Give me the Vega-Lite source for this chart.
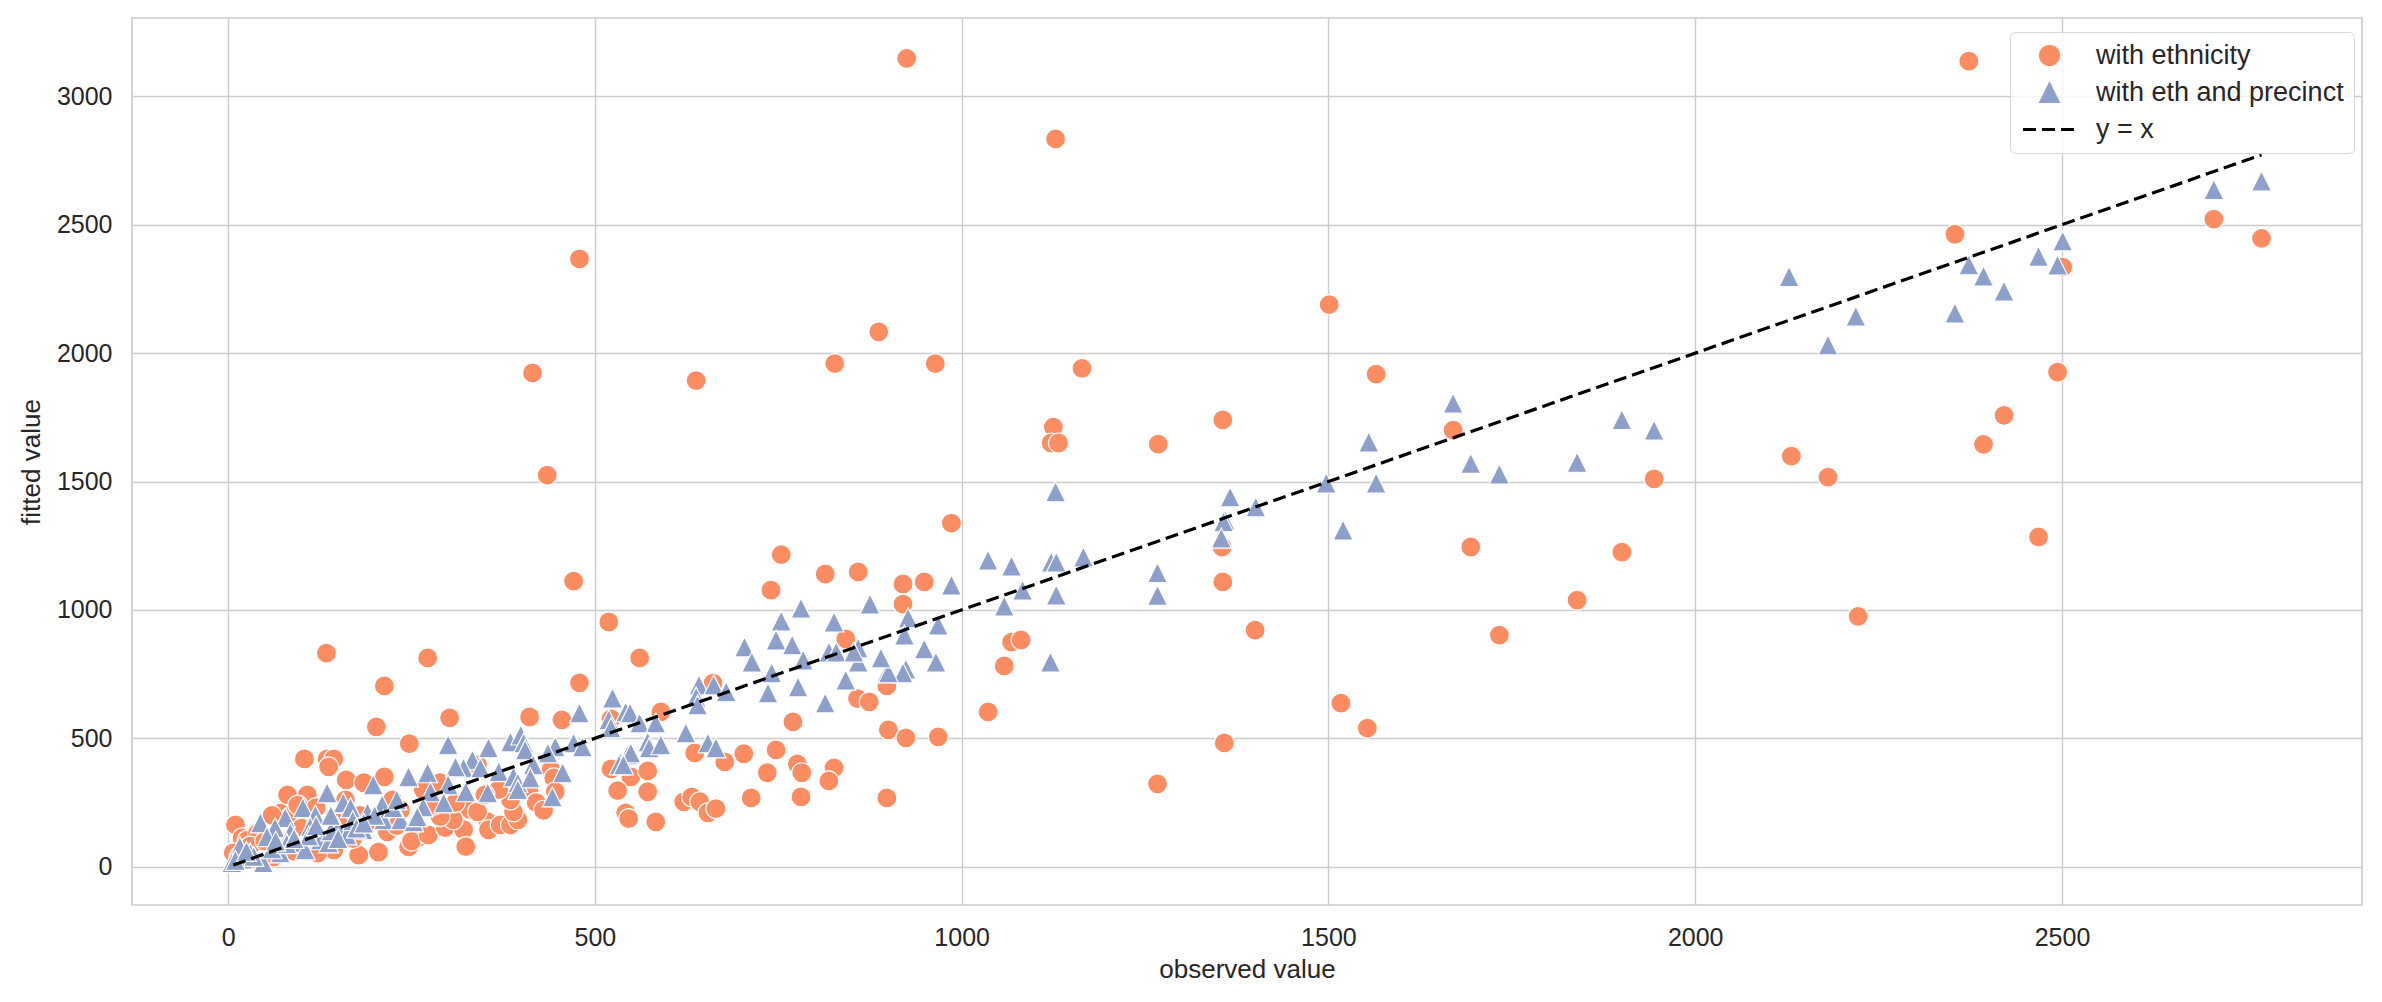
{
  "$schema": "https://vega.github.io/schema/vega-lite/v6.json",
  "autosize": {"type": "none"},
  "width": 2230,
  "height": 887,
  "padding": {"left": 132, "top": 18, "right": 20, "bottom": 97},
  "background": "white",
  "config": {
    "font": "Liberation Sans",
    "view": {"stroke": "#cccccc", "strokeWidth": 1.7},
    "axis": {
      "domain": false, "ticks": false, "grid": true, "gridColor": "#cccccc", "gridWidth": 1.4,
      "labelFont": "Liberation Sans", "labelFontSize": 25, "labelColor": "#262626",
      "titleFont": "Liberation Sans", "titleFontSize": 26, "titleColor": "#262626", "titleFontWeight": "normal"
    },
    "legend": {
      "title": null, "orient": "none", "legendX": 1878, "legendY": 14,
      "fillColor": "rgba(255,255,255,0.8)", "strokeColor": "#d6d6d6", "cornerRadius": 5, "padding": 10,
      "labelFont": "Liberation Sans", "labelFontSize": 27, "labelColor": "#262626", "labelLimit": 500, "rowPadding": 9,
      "symbolSize": 380, "symbolStrokeWidth": 1.2, "symbolOffset": 16, "labelOffset": 33
    }
  },
  "datasets": {
    "pts": [
      {"o":925,"f":3148,"s":"with ethnicity"},{"o":1128,"f":2834,"s":"with ethnicity"},{"o":479,"f":2367,"s":"with ethnicity"},{"o":887,"f":2083,"s":"with ethnicity"},
      {"o":415,"f":1923,"s":"with ethnicity"},{"o":827,"f":1959,"s":"with ethnicity"},{"o":964,"f":1959,"s":"with ethnicity"},{"o":638,"f":1893,"s":"with ethnicity"},
      {"o":1164,"f":1941,"s":"with ethnicity"},{"o":435,"f":1525,"s":"with ethnicity"},{"o":1501,"f":2189,"s":"with ethnicity"},{"o":1565,"f":1918,"s":"with ethnicity"},
      {"o":1268,"f":1646,"s":"with ethnicity"},{"o":1356,"f":1740,"s":"with ethnicity"},{"o":1125,"f":1712,"s":"with ethnicity"},{"o":1122,"f":1650,"s":"with ethnicity"},
      {"o":1132,"f":1650,"s":"with ethnicity"},{"o":986,"f":1338,"s":"with ethnicity"},{"o":471,"f":1112,"s":"with ethnicity"},{"o":754,"f":1215,"s":"with ethnicity"},
      {"o":740,"f":1077,"s":"with ethnicity"},{"o":814,"f":1140,"s":"with ethnicity"},{"o":859,"f":1148,"s":"with ethnicity"},{"o":920,"f":1101,"s":"with ethnicity"},
      {"o":949,"f":1109,"s":"with ethnicity"},{"o":920,"f":1023,"s":"with ethnicity"},{"o":519,"f":953,"s":"with ethnicity"},{"o":479,"f":716,"s":"with ethnicity"},
      {"o":134,"f":832,"s":"with ethnicity"},{"o":272,"f":813,"s":"with ethnicity"},{"o":213,"f":704,"s":"with ethnicity"},{"o":202,"f":545,"s":"with ethnicity"},
      {"o":302,"f":580,"s":"with ethnicity"},{"o":411,"f":583,"s":"with ethnicity"},{"o":455,"f":572,"s":"with ethnicity"},{"o":561,"f":813,"s":"with ethnicity"},
      {"o":590,"f":603,"s":"with ethnicity"},{"o":661,"f":715,"s":"with ethnicity"},{"o":842,"f":887,"s":"with ethnicity"},{"o":770,"f":564,"s":"with ethnicity"},
      {"o":858,"f":655,"s":"with ethnicity"},{"o":874,"f":642,"s":"with ethnicity"},{"o":898,"f":704,"s":"with ethnicity"},{"o":900,"f":533,"s":"with ethnicity"},
      {"o":924,"f":502,"s":"with ethnicity"},{"o":968,"f":506,"s":"with ethnicity"},{"o":898,"f":268,"s":"with ethnicity"},{"o":1036,"f":603,"s":"with ethnicity"},
      {"o":1058,"f":782,"s":"with ethnicity"},{"o":1068,"f":875,"s":"with ethnicity"},{"o":1081,"f":883,"s":"with ethnicity"},
      {"o":636,"f":443,"s":"with ethnicity"},{"o":677,"f":408,"s":"with ethnicity"},{"o":703,"f":440,"s":"with ethnicity"},{"o":747,"f":455,"s":"with ethnicity"},
      {"o":735,"f":366,"s":"with ethnicity"},{"o":776,"f":400,"s":"with ethnicity"},{"o":782,"f":366,"s":"with ethnicity"},{"o":826,"f":385,"s":"with ethnicity"},
      {"o":819,"f":334,"s":"with ethnicity"},{"o":781,"f":272,"s":"with ethnicity"},{"o":713,"f":268,"s":"with ethnicity"},
      {"o":522,"f":381,"s":"with ethnicity"},{"o":549,"f":350,"s":"with ethnicity"},{"o":572,"f":373,"s":"with ethnicity"},{"o":531,"f":296,"s":"with ethnicity"},
      {"o":572,"f":292,"s":"with ethnicity"},{"o":542,"f":210,"s":"with ethnicity"},{"o":546,"f":187,"s":"with ethnicity"},{"o":583,"f":175,"s":"with ethnicity"},
      {"o":621,"f":253,"s":"with ethnicity"},{"o":632,"f":272,"s":"with ethnicity"},{"o":643,"f":253,"s":"with ethnicity"},{"o":654,"f":210,"s":"with ethnicity"},
      {"o":665,"f":226,"s":"with ethnicity"},{"o":522,"f":576,"s":"with ethnicity"},
      {"o":1267,"f":323,"s":"with ethnicity"},{"o":1358,"f":482,"s":"with ethnicity"},{"o":1400,"f":921,"s":"with ethnicity"},{"o":1517,"f":637,"s":"with ethnicity"},
      {"o":1553,"f":540,"s":"with ethnicity"},{"o":1356,"f":1109,"s":"with ethnicity"},{"o":1355,"f":1245,"s":"with ethnicity"},{"o":1670,"f":1700,"s":"with ethnicity"},
      {"o":1694,"f":1245,"s":"with ethnicity"},{"o":1733,"f":902,"s":"with ethnicity"},{"o":1839,"f":1038,"s":"with ethnicity"},{"o":1900,"f":1225,"s":"with ethnicity"},
      {"o":1944,"f":1510,"s":"with ethnicity"},{"o":2131,"f":1599,"s":"with ethnicity"},{"o":2181,"f":1517,"s":"with ethnicity"},{"o":2222,"f":975,"s":"with ethnicity"},
      {"o":2373,"f":3137,"s":"with ethnicity"},{"o":2707,"f":2522,"s":"with ethnicity"},{"o":2772,"f":2447,"s":"with ethnicity"},{"o":2354,"f":2463,"s":"with ethnicity"},
      {"o":2501,"f":2335,"s":"with ethnicity"},{"o":2494,"f":1926,"s":"with ethnicity"},{"o":2421,"f":1758,"s":"with ethnicity"},{"o":2393,"f":1645,"s":"with ethnicity"},
      {"o":2468,"f":1284,"s":"with ethnicity"},
      {"o":247,"f":479,"s":"with ethnicity"},{"o":104,"f":420,"s":"with ethnicity"},{"o":135,"f":420,"s":"with ethnicity"},{"o":144,"f":420,"s":"with ethnicity"},
      {"o":137,"f":389,"s":"with ethnicity"},{"o":161,"f":338,"s":"with ethnicity"},{"o":185,"f":327,"s":"with ethnicity"},{"o":213,"f":350,"s":"with ethnicity"},
      {"o":81,"f":280,"s":"with ethnicity"},{"o":108,"f":280,"s":"with ethnicity"},{"o":71,"f":209,"s":"with ethnicity"},{"o":85,"f":194,"s":"with ethnicity"},
      {"o":10,"f":163,"s":"with ethnicity"},{"o":19,"f":112,"s":"with ethnicity"},{"o":26,"f":104,"s":"with ethnicity"},{"o":7,"f":54,"s":"with ethnicity"},
      {"o":178,"f":45,"s":"with ethnicity"},{"o":205,"f":57,"s":"with ethnicity"},{"o":246,"f":77,"s":"with ethnicity"},{"o":258,"f":112,"s":"with ethnicity"},
      {"o":217,"f":136,"s":"with ethnicity"},{"o":235,"f":221,"s":"with ethnicity"},{"o":224,"f":260,"s":"with ethnicity"},{"o":144,"f":65,"s":"with ethnicity"},
      {"o":122,"f":53,"s":"with ethnicity"},{"o":62,"f":38,"s":"with ethnicity"},
      {"o":250,"f":100,"s":"with ethnicity"},{"o":273,"f":124,"s":"with ethnicity"},{"o":296,"f":152,"s":"with ethnicity"},{"o":321,"f":144,"s":"with ethnicity"},
      {"o":324,"f":78,"s":"with ethnicity"},{"o":330,"f":222,"s":"with ethnicity"},{"o":354,"f":175,"s":"with ethnicity"},{"o":355,"f":144,"s":"with ethnicity"},
      {"o":371,"f":163,"s":"with ethnicity"},{"o":385,"f":163,"s":"with ethnicity"},{"o":395,"f":183,"s":"with ethnicity"},{"o":389,"f":214,"s":"with ethnicity"},
      {"o":385,"f":260,"s":"with ethnicity"},{"o":340,"f":214,"s":"with ethnicity"},{"o":307,"f":183,"s":"with ethnicity"},{"o":289,"f":195,"s":"with ethnicity"},
      {"o":369,"f":300,"s":"with ethnicity"},{"o":440,"f":377,"s":"with ethnicity"},{"o":444,"f":346,"s":"with ethnicity"},{"o":446,"f":292,"s":"with ethnicity"},
      {"o":340,"f":397,"s":"with ethnicity"},{"o":289,"f":327,"s":"with ethnicity"},{"o":266,"f":300,"s":"with ethnicity"},
      {"o":95,"f":240,"s":"with ethnicity"},{"o":120,"f":230,"s":"with ethnicity"},{"o":60,"f":200,"s":"with ethnicity"},{"o":160,"f":260,"s":"with ethnicity"},
      {"o":180,"f":200,"s":"with ethnicity"},{"o":150,"f":170,"s":"with ethnicity"},{"o":40,"f":130,"s":"with ethnicity"},{"o":30,"f":80,"s":"with ethnicity"},
      {"o":100,"f":150,"s":"with ethnicity"},{"o":200,"f":180,"s":"with ethnicity"},{"o":50,"f":100,"s":"with ethnicity"},{"o":15,"f":40,"s":"with ethnicity"},
      {"o":90,"f":60,"s":"with ethnicity"},{"o":170,"f":110,"s":"with ethnicity"},{"o":230,"f":160,"s":"with ethnicity"},{"o":280,"f":240,"s":"with ethnicity"},
      {"o":310,"f":250,"s":"with ethnicity"},{"o":350,"f":280,"s":"with ethnicity"},{"o":410,"f":300,"s":"with ethnicity"},{"o":420,"f":250,"s":"with ethnicity"},
      {"o":430,"f":220,"s":"with ethnicity"},

      {"o":198,"f":319,"s":"with eth and precinct"},{"o":246,"f":350,"s":"with eth and precinct"},{"o":135,"f":288,"s":"with eth and precinct"},{"o":157,"f":249,"s":"with eth and precinct"},
      {"o":167,"f":230,"s":"with eth and precinct"},{"o":102,"f":230,"s":"with eth and precinct"},{"o":119,"f":202,"s":"with eth and precinct"},{"o":78,"f":191,"s":"with eth and precinct"},
      {"o":44,"f":171,"s":"with eth and precinct"},{"o":64,"f":152,"s":"with eth and precinct"},{"o":184,"f":144,"s":"with eth and precinct"},{"o":210,"f":241,"s":"with eth and precinct"},
      {"o":212,"f":183,"s":"with eth and precinct"},{"o":235,"f":183,"s":"with eth and precinct"},{"o":253,"f":175,"s":"with eth and precinct"},{"o":126,"f":105,"s":"with eth and precinct"},
      {"o":94,"f":93,"s":"with eth and precinct"},{"o":16,"f":78,"s":"with eth and precinct"},{"o":48,"f":16,"s":"with eth and precinct"},{"o":5,"f":16,"s":"with eth and precinct"},
      {"o":149,"f":156,"s":"with eth and precinct"},{"o":85,"f":132,"s":"with eth and precinct"},{"o":53,"f":117,"s":"with eth and precinct"},{"o":30,"f":54,"s":"with eth and precinct"},
      {"o":71,"f":54,"s":"with eth and precinct"},{"o":105,"f":66,"s":"with eth and precinct"},{"o":137,"f":93,"s":"with eth and precinct"},{"o":162,"f":124,"s":"with eth and precinct"},
      {"o":190,"f":210,"s":"with eth and precinct"},{"o":112,"f":155,"s":"with eth and precinct"},
      {"o":20,"f":30,"s":"with eth and precinct"},{"o":35,"f":40,"s":"with eth and precinct"},{"o":60,"f":70,"s":"with eth and precinct"},{"o":80,"f":90,"s":"with eth and precinct"},
      {"o":110,"f":120,"s":"with eth and precinct"},{"o":140,"f":140,"s":"with eth and precinct"},{"o":170,"f":180,"s":"with eth and precinct"},{"o":200,"f":200,"s":"with eth and precinct"},
      {"o":225,"f":230,"s":"with eth and precinct"},{"o":120,"f":160,"s":"with eth and precinct"},{"o":90,"f":110,"s":"with eth and precinct"},{"o":140,"f":200,"s":"with eth and precinct"},
      {"o":175,"f":150,"s":"with eth and precinct"},{"o":10,"f":25,"s":"with eth and precinct"},{"o":25,"f":60,"s":"with eth and precinct"},{"o":65,"f":100,"s":"with eth and precinct"},
      {"o":150,"f":110,"s":"with eth and precinct"},{"o":185,"f":170,"s":"with eth and precinct"},{"o":230,"f":260,"s":"with eth and precinct"},
      {"o":479,"f":599,"s":"with eth and precinct"},{"o":519,"f":572,"s":"with eth and precinct"},{"o":522,"f":541,"s":"with eth and precinct"},{"o":542,"f":603,"s":"with eth and precinct"},
      {"o":300,"f":475,"s":"with eth and precinct"},{"o":355,"f":463,"s":"with eth and precinct"},{"o":385,"f":486,"s":"with eth and precinct"},{"o":399,"f":513,"s":"with eth and precinct"},
      {"o":403,"f":482,"s":"with eth and precinct"},{"o":405,"f":455,"s":"with eth and precinct"},{"o":446,"f":467,"s":"with eth and precinct"},{"o":471,"f":482,"s":"with eth and precinct"},
      {"o":483,"f":467,"s":"with eth and precinct"},{"o":436,"f":443,"s":"with eth and precinct"},{"o":416,"f":397,"s":"with eth and precinct"},{"o":333,"f":416,"s":"with eth and precinct"},
      {"o":321,"f":385,"s":"with eth and precinct"},{"o":310,"f":389,"s":"with eth and precinct"},{"o":344,"f":385,"s":"with eth and precinct"},{"o":369,"f":370,"s":"with eth and precinct"},
      {"o":272,"f":366,"s":"with eth and precinct"},{"o":300,"f":319,"s":"with eth and precinct"},{"o":324,"f":292,"s":"with eth and precinct"},{"o":354,"f":288,"s":"with eth and precinct"},
      {"o":389,"f":350,"s":"with eth and precinct"},{"o":395,"f":327,"s":"with eth and precinct"},{"o":412,"f":346,"s":"with eth and precinct"},{"o":456,"f":366,"s":"with eth and precinct"},
      {"o":442,"f":272,"s":"with eth and precinct"},{"o":395,"f":300,"s":"with eth and precinct"},{"o":276,"f":292,"s":"with eth and precinct"},{"o":294,"f":249,"s":"with eth and precinct"},
      {"o":266,"f":233,"s":"with eth and precinct"},{"o":258,"f":195,"s":"with eth and precinct"},{"o":535,"f":405,"s":"with eth and precinct"},{"o":545,"f":436,"s":"with eth and precinct"},
      {"o":524,"f":657,"s":"with eth and precinct"},{"o":548,"f":599,"s":"with eth and precinct"},{"o":561,"f":560,"s":"with eth and precinct"},{"o":583,"f":560,"s":"with eth and precinct"},
      {"o":572,"f":486,"s":"with eth and precinct"},{"o":574,"f":463,"s":"with eth and precinct"},{"o":590,"f":475,"s":"with eth and precinct"},{"o":549,"f":443,"s":"with eth and precinct"},
      {"o":533,"f":397,"s":"with eth and precinct"},{"o":539,"f":397,"s":"with eth and precinct"},{"o":624,"f":521,"s":"with eth and precinct"},{"o":642,"f":708,"s":"with eth and precinct"},
      {"o":662,"f":708,"s":"with eth and precinct"},{"o":679,"f":681,"s":"with eth and precinct"},{"o":638,"f":661,"s":"with eth and precinct"},{"o":640,"f":630,"s":"with eth and precinct"},
      {"o":654,"f":482,"s":"with eth and precinct"},{"o":665,"f":463,"s":"with eth and precinct"},{"o":704,"f":856,"s":"with eth and precinct"},{"o":714,"f":797,"s":"with eth and precinct"},
      {"o":754,"f":957,"s":"with eth and precinct"},{"o":747,"f":883,"s":"with eth and precinct"},{"o":769,"f":864,"s":"with eth and precinct"},{"o":781,"f":1007,"s":"with eth and precinct"},
      {"o":784,"f":805,"s":"with eth and precinct"},{"o":741,"f":755,"s":"with eth and precinct"},{"o":736,"f":677,"s":"with eth and precinct"},{"o":777,"f":700,"s":"with eth and precinct"},
      {"o":826,"f":953,"s":"with eth and precinct"},{"o":819,"f":836,"s":"with eth and precinct"},{"o":829,"f":836,"s":"with eth and precinct"},{"o":842,"f":727,"s":"with eth and precinct"},
      {"o":814,"f":638,"s":"with eth and precinct"},{"o":859,"f":852,"s":"with eth and precinct"},{"o":859,"f":797,"s":"with eth and precinct"},
      {"o":875,"f":1023,"s":"with eth and precinct"},{"o":986,"f":1097,"s":"with eth and precinct"},{"o":927,"f":969,"s":"with eth and precinct"},{"o":922,"f":902,"s":"with eth and precinct"},
      {"o":968,"f":941,"s":"with eth and precinct"},{"o":949,"f":848,"s":"with eth and precinct"},{"o":965,"f":797,"s":"with eth and precinct"},{"o":924,"f":770,"s":"with eth and precinct"},
      {"o":920,"f":755,"s":"with eth and precinct"},{"o":898,"f":758,"s":"with eth and precinct"},{"o":900,"f":755,"s":"with eth and precinct"},{"o":890,"f":813,"s":"with eth and precinct"},
      {"o":853,"f":836,"s":"with eth and precinct"},{"o":1036,"f":1194,"s":"with eth and precinct"},{"o":1068,"f":1171,"s":"with eth and precinct"},{"o":1083,"f":1077,"s":"with eth and precinct"},
      {"o":1058,"f":1015,"s":"with eth and precinct"},{"o":1122,"f":1186,"s":"with eth and precinct"},{"o":1129,"f":1186,"s":"with eth and precinct"},{"o":1166,"f":1206,"s":"with eth and precinct"},
      {"o":1129,"f":1058,"s":"with eth and precinct"},{"o":1121,"f":797,"s":"with eth and precinct"},{"o":1128,"f":1460,"s":"with eth and precinct"},
      {"o":1267,"f":1145,"s":"with eth and precinct"},{"o":1267,"f":1057,"s":"with eth and precinct"},{"o":1366,"f":1440,"s":"with eth and precinct"},{"o":1401,"f":1401,"s":"with eth and precinct"},
      {"o":1359,"f":1350,"s":"with eth and precinct"},{"o":1357,"f":1343,"s":"with eth and precinct"},{"o":1354,"f":1280,"s":"with eth and precinct"},{"o":1497,"f":1494,"s":"with eth and precinct"},
      {"o":1555,"f":1654,"s":"with eth and precinct"},{"o":1565,"f":1494,"s":"with eth and precinct"},{"o":1520,"f":1311,"s":"with eth and precinct"},{"o":1670,"f":1805,"s":"with eth and precinct"},
      {"o":1694,"f":1571,"s":"with eth and precinct"},{"o":1733,"f":1529,"s":"with eth and precinct"},{"o":1839,"f":1575,"s":"with eth and precinct"},{"o":1900,"f":1741,"s":"with eth and precinct"},
      {"o":1944,"f":1700,"s":"with eth and precinct"},{"o":2128,"f":2298,"s":"with eth and precinct"},{"o":2181,"f":2032,"s":"with eth and precinct"},{"o":2219,"f":2144,"s":"with eth and precinct"},
      {"o":2354,"f":2156,"s":"with eth and precinct"},{"o":2373,"f":2344,"s":"with eth and precinct"},{"o":2393,"f":2300,"s":"with eth and precinct"},{"o":2421,"f":2242,"s":"with eth and precinct"},
      {"o":2468,"f":2377,"s":"with eth and precinct"},{"o":2494,"f":2343,"s":"with eth and precinct"},{"o":2501,"f":2437,"s":"with eth and precinct"},{"o":2707,"f":2637,"s":"with eth and precinct"},
      {"o":2772,"f":2670,"s":"with eth and precinct"}
    ],
    "diag": [
      {"o":7,"f":7,"s":"y = x"},
      {"o":2772,"f":2772,"s":"y = x"}
    ]
  },
  "layer": [
    {
      "data": {"name": "pts"},
      "mark": {"type": "point", "filled": true, "opacity": 1, "size": 400, "stroke": "white", "strokeWidth": 1.2},
      "encoding": {
        "x": {"field": "o", "type": "quantitative", "title": "observed value",
              "scale": {"domain": [-131, 2909], "nice": false, "zero": false},
              "axis": {"values": [0, 500, 1000, 1500, 2000, 2500], "format": "d", "labelPadding": 20, "titlePadding": 6}},
        "y": {"field": "f", "type": "quantitative", "title": "fitted value",
              "scale": {"domain": [-149, 3305], "nice": false, "zero": false},
              "axis": {"values": [0, 500, 1000, 1500, 2000, 2500, 3000], "format": "d", "labelPadding": 20, "titlePadding": 12}},
        "color": {"field": "s", "type": "nominal",
                  "scale": {"domain": ["with ethnicity", "with eth and precinct", "y = x"], "range": ["#fc8d62", "#8da0cb", "#000000"]},
                  "legend": {"encode": {"symbols": {"update": {
                               "stroke": {"signal": "datum.value === 'y = x' ? 'black' : 'white'"},
                               "strokeWidth": {"signal": "datum.value === 'y = x' ? 3.2 : 1.2"},
                               "strokeDash": {"signal": "datum.value === 'y = x' ? [13, 6] : [1, 0]"},
                               "size": {"signal": "datum.value === 'y = x' ? 2809 : 400"},
                               "opacity": {"value": 1}
                             }}}}},
        "shape": {"field": "s", "type": "nominal",
                  "scale": {"domain": ["with ethnicity", "with eth and precinct", "y = x"], "range": ["circle", "M0,-1L-1,1L1,1Z", "stroke"]},
                  "legend": {"encode": {"symbols": {"update": {
                               "stroke": {"signal": "datum.value === 'y = x' ? 'black' : 'white'"},
                               "strokeWidth": {"signal": "datum.value === 'y = x' ? 3.2 : 1.2"},
                               "strokeDash": {"signal": "datum.value === 'y = x' ? [13, 6] : [1, 0]"},
                               "size": {"signal": "datum.value === 'y = x' ? 2809 : 400"},
                               "opacity": {"value": 1}
                             }}}}}
      }
    },
    {
      "data": {"name": "diag"},
      "mark": {"type": "line", "strokeDash": [13, 6], "strokeWidth": 3.2},
      "encoding": {
        "x": {"field": "o", "type": "quantitative"},
        "y": {"field": "f", "type": "quantitative"},
        "color": {"field": "s", "type": "nominal", "legend": {"encode": {"symbols": {"update": {
                               "stroke": {"signal": "datum.value === 'y = x' ? 'black' : 'white'"},
                               "strokeWidth": {"signal": "datum.value === 'y = x' ? 3.2 : 1.2"},
                               "strokeDash": {"signal": "datum.value === 'y = x' ? [13, 6] : [1, 0]"},
                               "size": {"signal": "datum.value === 'y = x' ? 2809 : 400"},
                               "opacity": {"value": 1}
                             }}}}}
      }
    }
  ]
}
